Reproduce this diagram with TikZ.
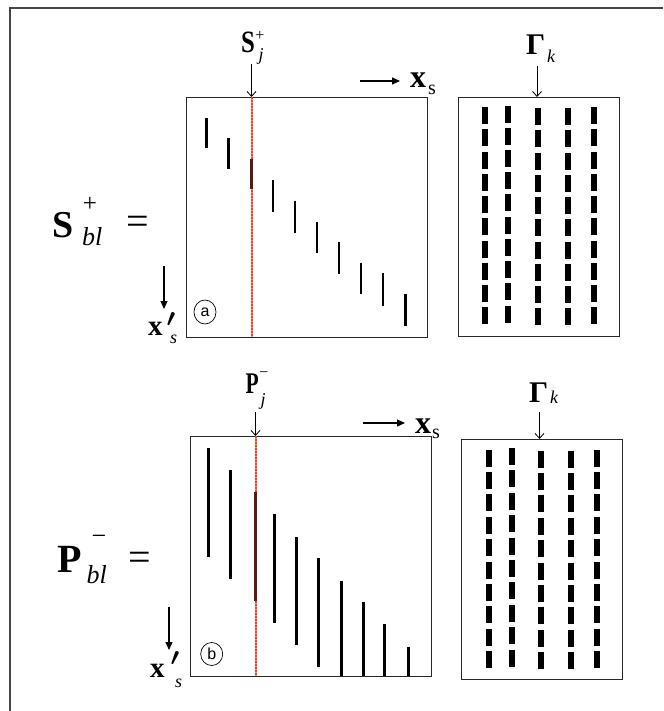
\documentclass[tikz,border=0pt]{standalone}
\usepackage{fontspec}
\setmainfont{Liberation Serif}
\newfontfamily\labelsans{Liberation Sans}
\usetikzlibrary{arrows.meta,shapes.geometric}
\definecolor{cutred}{RGB}{236,66,40}
\definecolor{cutpale}{RGB}{246,150,128}
\definecolor{segred}{RGB}{90,26,18}
\definecolor{framegray}{RGB}{70,70,70}
\definecolor{boxgray}{RGB}{40,40,40}
\newcommand{\fs}[1]{\fontsize{#1}{#1}\selectfont}
\begin{document}
\begin{tikzpicture}[x=1pt,y=-1pt,
  matbox/.style={draw=boxgray, line width=1.3pt, inner sep=0pt, anchor=north west},
  segA/.style={line width=2.8pt, black},
  segB/.style={line width=2.5pt, black},
  pointer/.style={-{Straight Barb[length=5pt,width=9pt]}, line width=0.8pt},
  axisarrow/.style={-{Triangle[length=8pt,width=7pt]}, line width=1.2pt},
  lab/.style={inner sep=0pt, anchor=base west},
  clab/.style={inner sep=0pt},
  circlab/.style={draw, ellipse, line width=0.7pt, inner sep=0pt, minimum width=22pt, minimum height=24pt, font=\labelsans\fs{16}}
]
\useasboundingbox (0,0) rectangle (663,711);
% outer frame
\coordinate (frameBL) at (10,711);
\coordinate (frameTL) at (10,8);
\coordinate (frameTR) at (663,8);
\draw[framegray, line width=1.3pt] (frameBL) -- (frameTL) -- (frameTR);

% ---------------- panel a ----------------
\node[matbox, minimum width=241pt, minimum height=240pt] (boxA) at (186,97) {};
\node[matbox, minimum width=161pt, minimum height=239pt] (gamA) at (458,97) {};

\coordinate (cutAtop) at (251.5,97);
\coordinate (cutAbot) at (251.5,337);
\fill[cutpale] (250.5,97) rectangle (252.5,337);
\foreach \k in {0,...,79}{
  \fill[cutred] (250.5,97+\k*3) rectangle (252.5,97+\k*3+2);
}

\foreach \x/\t/\b/\c [count=\i] in {206.7/118.3/148.3/black, 228.7/138.3/169/black, 251.5/159.3/189.3/segred,
  273/180/211.7/black, 295/200.7/232.7/black, 317/221.7/253.3/black, 339/241.7/274/black,
  361/262.7/294.3/black, 383/273.3/305.7/black, 405.3/294.3/326/black}{
  \coordinate (sa\i t) at (\x,\t);
  \coordinate (sa\i b) at (\x,\b);
  \draw[segA, \c] (sa\i t) -- (sa\i b);
}
\foreach \cx/\top in {485/107.3, 508.3/105.7, 537.7/108.3, 567.7/108.3, 594/107.3}{
  \foreach \k in {0,...,9}{
    \fill[black] (\cx-3,\top+\k*22.2) rectangle (\cx+3,\top+\k*22.2+17);
  }
}

% labels a
\node[lab, font=\fs{38}\bfseries] (SblA) at (52,237) {S};
\node[clab, font=\fs{25}] (SblAplus) at (90,204) {+};
\node[lab, font=\fs{26}\itshape] (SblAsub) at (82,245) {bl};
\node[clab, font=\fs{40}] (eqA) at (138,225) {=};

\node[lab, font=\fs{31}\bfseries, xscale=0.8] (SjA) at (241,53) {S};
\node[clab, font=\fs{16}] (SjAplus) at (260,36) {+};
\node[lab, font=\fs{18}\itshape] (SjAsub) at (258.5,61) {j};
\coordinate (SjAarrow) at (251.5,64);
\draw[pointer] (SjAarrow) -- (cutAtop);

\coordinate (xsAfrom) at (360,81);
\coordinate (xsAto) at (400,81);
\draw[axisarrow] (xsAfrom) -- (xsAto);
\node[lab, font=\fs{32}\bfseries] (xsA) at (410,88) {x};
\node[lab, font=\fs{20}] (xsAsub) at (428,95) {s};

\node[lab, font=\fs{30}\bfseries] (GamA) at (526,55) {Γ};
\node[lab, font=\fs{18}\itshape] (GamAsub) at (547,63) {k};
\coordinate (GamAarrow) at (537,66);
\coordinate (GamAtip) at (537,97);
\draw[pointer] (GamAarrow) -- (GamAtip);

\coordinate (xpAfrom) at (164,266);
\coordinate (xpAto) at (164,309);
\draw[axisarrow] (xpAfrom) -- (xpAto);
\node[lab, font=\fs{29}\bfseries] (xpA) at (148,335) {x};
\node[clab, font=\fs{24}\boldmath] (xpAprime) at (171,320) {$\prime$};
\node[lab, font=\fs{18}\itshape] (xpAsub) at (170,343) {s};
\node[circlab] (circA) at (205,312) {a};

% ---------------- panel b ----------------
\node[matbox, minimum width=240.7pt, minimum height=240pt] (boxB) at (190,436) {};
\node[matbox, minimum width=160.6pt, minimum height=240pt] (gamB) at (461,439) {};

\coordinate (cutBtop) at (255.5,436);
\coordinate (cutBbot) at (255.5,676);
\fill[cutpale] (254.5,436) rectangle (256.5,676);
\foreach \k in {0,...,79}{
  \fill[cutred] (254.5,436+\k*3) rectangle (256.5,436+\k*3+2);
}

\foreach \x/\t/\b/\c [count=\i] in {208.3/448/557/black, 230.3/470/579/black, 255.5/492/601/segred,
  274.3/514/623/black, 296.3/537/645/black, 318.3/558/667/black, 341.7/581/676/black,
  363.3/602/676/black, 384.7/624/676/black, 408.3/647/676/black}{
  \coordinate (sb\i t) at (\x,\t);
  \coordinate (sb\i b) at (\x,\b);
  \draw[segB, \c] (sb\i t) -- (sb\i b);
}
\foreach \cx/\top in {488.6/449.5, 512.3/448, 540.5/450.5, 571/450.5, 596.7/449.5}{
  \foreach \k in {0,...,9}{
    \fill[black] (\cx-3,\top+\k*22.4) rectangle (\cx+3,\top+\k*22.4+17);
  }
}

% labels b
\node[lab, font=\fs{40}\bfseries] (PblB) at (57,572) {P};
\node[clab, font=\fs{26}] (PblBminus) at (99,540) {−};
\node[lab, font=\fs{26}\itshape] (PblBsub) at (86.5,583) {bl};
\node[clab, font=\fs{40}] (eqB) at (139.5,561) {=};

\node[lab, font=\fs{30}\bfseries, xscale=0.72] (PjB) at (245.5,393) {P};
\node[clab, font=\fs{16}] (PjBminus) at (264,375) {−};
\node[lab, font=\fs{18}\itshape] (PjBsub) at (260.5,405) {j};
\coordinate (PjBarrow) at (255.5,412);
\draw[pointer] (PjBarrow) -- (cutBtop);

\coordinate (xsBfrom) at (363,423);
\coordinate (xsBto) at (405,423);
\draw[axisarrow] (xsBfrom) -- (xsBto);
\node[lab, font=\fs{32}\bfseries] (xsB) at (415,433) {x};
\node[lab, font=\fs{20}] (xsBsub) at (432,438) {s};

\node[lab, font=\fs{30}\bfseries] (GamB) at (529,402) {Γ};
\node[lab, font=\fs{18}\itshape] (GamBsub) at (550,403) {k};
\coordinate (GamBarrow) at (539.5,412);
\coordinate (GamBtip) at (539.5,439);
\draw[pointer] (GamBarrow) -- (GamBtip);

\coordinate (xpBfrom) at (169,607);
\coordinate (xpBto) at (169,650);
\draw[axisarrow] (xpBfrom) -- (xpBto);
\node[lab, font=\fs{29}\bfseries] (xpB) at (150,677) {x};
\node[clab, font=\fs{24}\boldmath] (xpBprime) at (175,659) {$\prime$};
\node[lab, font=\fs{18}\itshape] (xpBsub) at (175,687) {s};
\node[circlab, minimum height=23pt] (circB) at (211.7,654) {b};
\end{tikzpicture}
\end{document}
